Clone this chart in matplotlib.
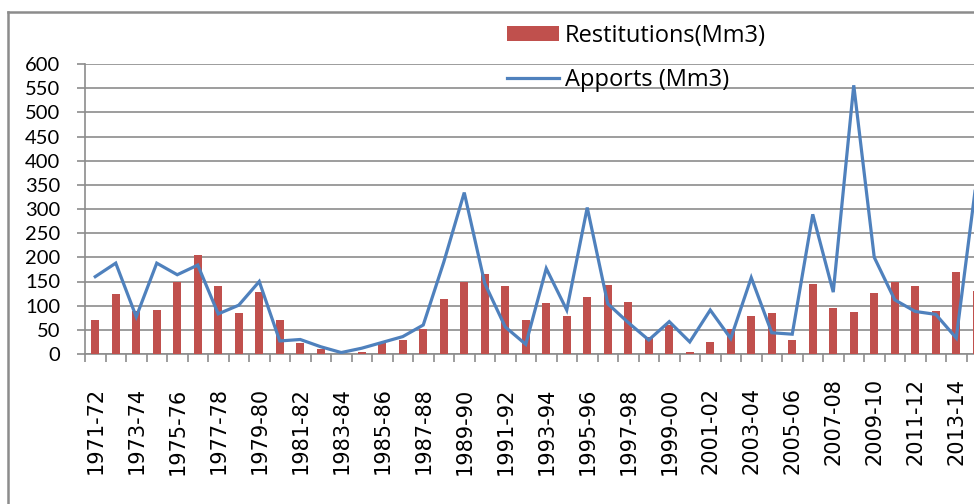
import matplotlib
matplotlib.use("Agg")
import matplotlib.pyplot as plt
import matplotlib.transforms as mtransforms
from matplotlib.lines import Line2D
import numpy as np

seasons = [f"{y}-{str(y + 1)[-2:]}" for y in range(1971, 2015)]
restitutions = [70, 124, 90, 92, 150, 204, 140, 84, 129, 70, 22, 10, 1, 4, 25, 30, 51,
                113, 148, 166, 140, 70, 105, 78, 118, 142, 107, 35, 61, 4, 25, 51, 78,
                84, 28, 145, 95, 86, 126, 148, 140, 89, 169, 131]
apports = [160, 188, 77, 188, 164, 184, 83, 101, 150, 27, 30, 15, 3, 12, 24, 36, 60,
           190, 334, 146, 56, 20, 177, 91, 303, 104, 65, 29, 67, 25, 91, 32, 158, 44,
           41, 289, 128, 556, 200, 112, 88, 82, 33, 365]
y_ticks = list(range(0, 601, 50))

W, H = 974, 504
fig = plt.figure(figsize=(W / 100, H / 100), dpi=100)
fig.patch.set_facecolor("white")

n = len(seasons)
cat_w = 20.5
left, top, bottom = 85, 64, 354
ax = fig.add_axes([left / W, 1 - bottom / H, n * cat_w / W, (bottom - top) / H])

x = np.arange(n)
bars = ax.bar(x, restitutions, width=0.4, color="#C0504D", zorder=3,
              label="Restitutions(Mm3)")
line, = ax.plot(x, apports, color="#4F81BD", lw=2.3, zorder=4, label="Apports (Mm3)",
                solid_joinstyle="miter")

ax.set_xlim(-0.5, n - 0.5)
ax.set_ylim(0, 600)
ax.set_yticks(y_ticks)
ax.set_yticklabels([str(v) for v in y_ticks], fontfamily="Lato", fontsize=14.5)
ax.yaxis.grid(True, color="#8c8c8c", lw=1.2, zorder=0)
ax.set_axisbelow(True)

grid_col = "#8c8c8c"
for s in ["top", "right"]:
    ax.spines[s].set_visible(False)
for s in ["left", "bottom"]:
    ax.spines[s].set_color(grid_col)
    ax.spines[s].set_linewidth(1.2)

ax.tick_params(axis="y", direction="out", length=6, width=1.2, color=grid_col, pad=12)
ax.set_xticks(x)
ax.set_xticklabels([s if i % 2 == 0 else "" for i, s in enumerate(seasons)],
                   rotation=90, fontfamily="DejaVu Sans", fontsize=15)
ax.tick_params(axis="x", which="major", length=0, pad=24)
ax.set_xticks(np.arange(-0.5, n, 1), minor=True)
ax.tick_params(axis="x", which="minor", direction="out", length=6, width=1.2, color=grid_col)

# later labels sit slightly higher in the reference
offset = mtransforms.ScaledTranslation(0, 9 / 100, fig.dpi_scale_trans)
for i, lbl in enumerate(ax.get_xticklabels()):
    if i >= 36:
        lbl.set_transform(lbl.get_transform() + offset)

leg = fig.legend(handles=[bars, line], loc="upper left",
                 bbox_to_anchor=(507 / W, 1 - 24 / H), frameon=False,
                 prop={"family": "Open Sans", "size": 17}, handlelength=2.2,
                 handleheight=0.6, handletextpad=0.25, labelspacing=0.83,
                 borderpad=0, borderaxespad=0)

# outer chart border (cropped)
fig.add_artist(Line2D([8 / W, 8 / W], [0, 1 - 12 / H], color="#8c8c8c", lw=1.8,
                      transform=fig.transFigure))
fig.add_artist(Line2D([8 / W, 1], [1 - 12 / H, 1 - 12 / H], color="#8c8c8c", lw=1.8,
                      transform=fig.transFigure))

fig.savefig("out.png", dpi=100)
